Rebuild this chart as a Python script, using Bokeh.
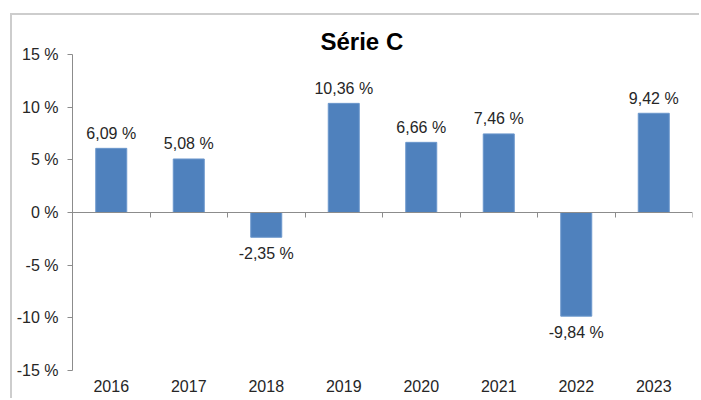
from bokeh.plotting import figure
from bokeh.models import (ColumnDataSource, Range1d, FixedTicker, LinearAxis,
                          LabelSet, PrintfTickFormatter)
from bokeh.core.properties import value
from bokeh.embed import file_html
from bokeh.resources import INLINE

title_text = "Série C"
years = ["2016", "2017", "2018", "2019", "2020", "2021", "2022", "2023"]
values = [6.09, 5.08, -2.35, 10.36, 6.66, 7.46, -9.84, 9.42]
y_ticks = [-15, -10, -5, 0, 5, 10, 15]

FONT = "Liberation Sans"
AXIS_COLOR = "#8c8c8c"
TEXT_COLOR = "#262626"
BAR_COLOR = "#4f81bd"

xc = [i + 0.5 for i in range(len(years))]
labels = [f"{v:.2f}".replace(".", ",") + " %" for v in values]

src = ColumnDataSource(dict(x=xc, top=values, year=years, label=labels))
pos = ColumnDataSource(dict(
    x=[x for x, v in zip(xc, values) if v >= 0],
    y=[v for v in values if v >= 0],
    label=[l for l, v in zip(labels, values) if v >= 0]))
neg = ColumnDataSource(dict(
    x=[x for x, v in zip(xc, values) if v < 0],
    y=[v for v in values if v < 0],
    label=[l for l, v in zip(labels, values) if v < 0]))

p = figure(width=689, height=385, output_backend="svg", toolbar_location=None,
           x_range=Range1d(0, len(years)), y_range=Range1d(y_ticks[0], y_ticks[-1]),
           min_border_left=60, min_border_right=9, min_border_top=39,
           min_border_bottom=30, x_axis_location=None, y_axis_location=None,
           margin=(13, 0, 0, 10),
           styles={"border-top": "2px solid #cdcdcd", "border-left": "2px solid #cdcdcd"})
p.outline_line_color = None
p.xgrid.visible = False
p.ygrid.visible = False
p.background_fill_color = "white"
p.border_fill_color = "white"

p.title.text = title_text
p.title.align = "left"
p.title.offset = 248
p.title.standoff = 0
p.title.text_font = FONT
p.title.text_font_size = "24px"
p.title.text_font_style = "bold"
p.title.text_color = "black"

p.vbar(x="x", top="top", bottom=0, width=0.4, source=src,
       fill_color=BAR_COLOR, line_color="#6b97cc", line_width=1)

# left value axis
ya = LinearAxis(ticker=FixedTicker(ticks=y_ticks),
                formatter=PrintfTickFormatter(format="%d %%"))
ya.axis_line_color = AXIS_COLOR
ya.major_tick_line_color = AXIS_COLOR
ya.major_tick_in = 0
ya.major_tick_out = 5
ya.minor_tick_line_color = None
ya.major_label_standoff = 9
ya.major_label_text_font = FONT
ya.major_label_text_font_size = "16px"
ya.major_label_text_color = TEXT_COLOR
p.add_layout(ya, "left")

# bottom category labels
xa = LinearAxis(ticker=FixedTicker(ticks=xc),
                major_label_overrides={x: y for x, y in zip(xc, years)})
xa.axis_line_color = None
xa.major_tick_line_color = None
xa.minor_tick_line_color = None
xa.major_label_standoff = 3
xa.major_label_text_font = FONT
xa.major_label_text_font_size = "16px"
xa.major_label_text_color = TEXT_COLOR
p.add_layout(xa, "below")

# zero line axis with category boundary ticks
za = LinearAxis(ticker=FixedTicker(ticks=list(range(len(years) + 1))),
                fixed_location=0)
za.axis_line_color = AXIS_COLOR
za.major_tick_line_color = AXIS_COLOR
za.major_tick_in = 0
za.major_tick_out = 5
za.minor_tick_line_color = None
za.major_label_text_font_size = "0px"
za.major_label_text_color = None
za.major_label_standoff = 0
p.add_layout(za, "below")

for s, off in ((pos, 15), (neg, -16)):
    p.add_layout(LabelSet(x="x", y="y", text="label", source=s, y_offset=off,
                          text_align="center", text_baseline="middle",
                          text_font=value(FONT), text_font_size="16px",
                          text_color=TEXT_COLOR))

open("out.html", "w").write(file_html(p, INLINE))
